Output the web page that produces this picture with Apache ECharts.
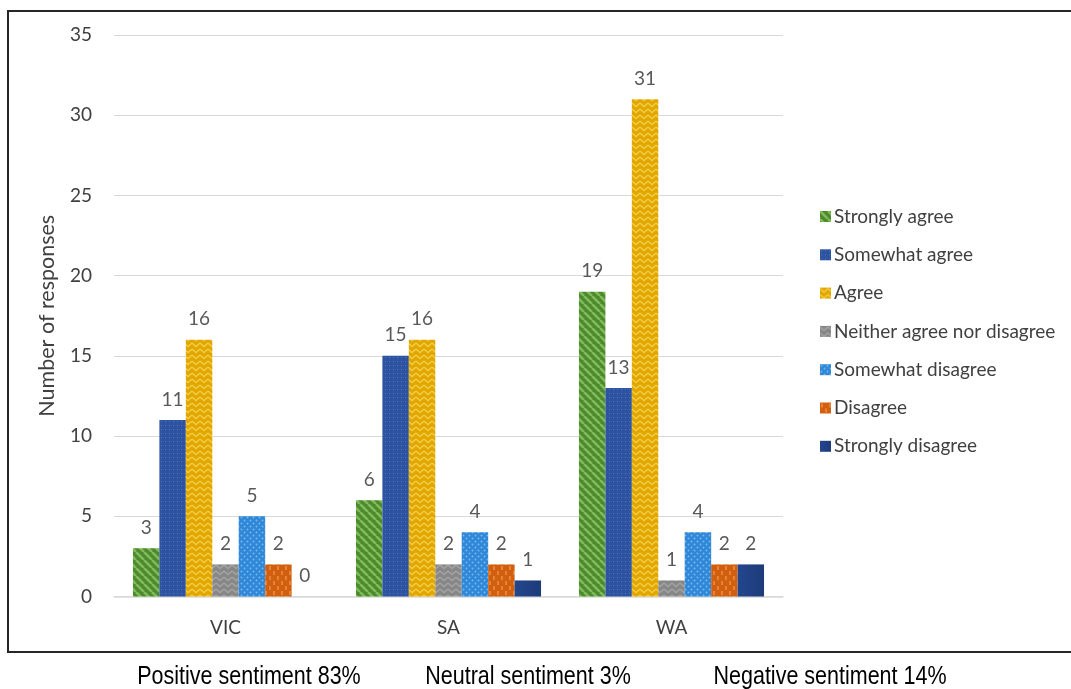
<!DOCTYPE html>
<html>
<head>
<meta charset="utf-8">
<script src="https://cdn.jsdelivr.net/npm/echarts@6/dist/echarts.min.js"></script>
<style>
  html, body { margin: 0; padding: 0; background: #ffffff; }
  #chart { width: 1071px; height: 689px; }
</style>
</head>
<body>
<div id="chart"></div>
<script>
// States along the x axis
const states = ['VIC', 'SA', 'WA'];

// Response counts per answer, one value per state
const stronglyAgree = [3, 6, 19];
const somewhatAgree = [11, 15, 13];
const agree = [16, 16, 31];
const neither = [2, 2, 1];
const somewhatDisagree = [5, 4, 4];
const disagree = [2, 2, 2];
const stronglyDisagree = [0, 1, 2];

const seriesNames = [
  'Strongly agree', 'Somewhat agree', 'Agree',
  'Neither agree nor disagree', 'Somewhat disagree', 'Disagree', 'Strongly disagree'
];
const seriesValues = [
  stronglyAgree, somewhatAgree, agree, neither,
  somewhatDisagree, disagree, stronglyDisagree
];

// Captions printed under the chart box
const sentimentLabels = ['Positive sentiment 83%', 'Neutral sentiment 3%', 'Negative sentiment 14%'];

// ---- pattern fills -------------------------------------------------------
function tile(w, h, base, draw) {
  const c = document.createElement('canvas');
  c.width = w; c.height = h;
  const g = c.getContext('2d');
  g.fillStyle = base;
  g.fillRect(0, 0, w, h);
  draw(g);
  return { image: c, repeat: 'repeat' };
}

const fills = [
  // diagonal stripes
  tile(8, 8, '#4d8a2c', g => {
    g.strokeStyle = '#7fba5c'; g.lineWidth = 2.6;
    for (let x = -8; x <= 8; x += 8) {
      g.beginPath(); g.moveTo(x, 0); g.lineTo(x + 8, 8); g.stroke();
    }
  }),
  // fine dots
  tile(4, 4, '#2d53a1', g => {
    g.fillStyle = '#4d74c2'; g.fillRect(1, 1, 1, 1);
  }),
  // zigzag
  tile(8, 6, '#e0a700', g => {
    g.strokeStyle = '#f6cb45'; g.lineWidth = 1.4;
    g.beginPath(); g.moveTo(0, 1); g.lineTo(4, 4.5); g.lineTo(8, 1); g.stroke();
  }),
  // herringbone
  tile(8, 6, '#878787', g => {
    g.strokeStyle = '#a3a3a3'; g.lineWidth = 1.6;
    g.beginPath(); g.moveTo(0, 1); g.lineTo(4, 4.5); g.lineTo(8, 1); g.stroke();
  }),
  // large dots
  tile(6, 6, '#2e87d7', g => {
    g.fillStyle = '#78b8ee';
    g.beginPath(); g.arc(1.5, 1.5, 1, 0, Math.PI * 2); g.fill();
    g.beginPath(); g.arc(4.5, 4.5, 1, 0, Math.PI * 2); g.fill();
  }),
  // short vertical dashes
  tile(8, 10, '#d15f0e', g => {
    g.strokeStyle = '#f09c5c'; g.lineWidth = 1.2;
    g.beginPath(); g.moveTo(2, 1); g.lineTo(2, 5); g.stroke();
    g.beginPath(); g.moveTo(6, 6); g.lineTo(6, 10); g.stroke();
  }),
  // solid navy with soft shading
  new echarts.graphic.LinearGradient(0, 0, 1, 0, [
    { offset: 0, color: '#23468c' },
    { offset: 1, color: '#1d3b7a' }
  ])
];

const tickFont = 'Lato, "Open Sans", sans-serif';

const chart = echarts.init(document.getElementById('chart'), null, { renderer: 'canvas' });

chart.setOption({
  animation: false,
  backgroundColor: '#ffffff',
  grid: { left: 114, right: 288, top: 35, bottom: 92.5, containLabel: false },
  legend: {
    orient: 'vertical',
    left: 815,
    top: 202,
    itemWidth: 11,
    itemHeight: 11,
    itemGap: 19.3,
    icon: 'rect',
    textStyle: { fontFamily: tickFont, fontSize: 19, color: '#404040', padding: [0, 0, 0, -2] },
    data: seriesNames
  },
  xAxis: {
    type: 'category',
    data: states,
    axisLine: { lineStyle: { color: '#d9d9d9', width: 1.5 } },
    axisTick: { show: false },
    axisLabel: { fontFamily: tickFont, fontSize: 19, color: '#404040', margin: 22 }
  },
  yAxis: {
    type: 'value',
    min: 0,
    max: 35,
    interval: 5,
    name: 'Number of responses',
    nameLocation: 'middle',
    nameGap: 56,
    nameTextStyle: { fontFamily: tickFont, fontSize: 21.5, color: '#404040' },
    axisLine: { show: false },
    axisTick: { show: false },
    splitLine: { lineStyle: { color: '#d9d9d9', width: 1 } },
    axisLabel: { fontFamily: tickFont, fontSize: 19, color: '#404040', margin: 22 }
  },
  series: seriesNames.map((name, i) => ({
    name: name,
    type: 'bar',
    data: seriesValues[i],
    barGap: '0%',
    barCategoryGap: '17%',
    itemStyle: { color: fills[i] },
    label: {
      show: true,
      position: 'top',
      distance: 11,
      fontFamily: tickFont,
      fontSize: 19,
      color: '#595959'
    }
  })),
  graphic: [
    {
      type: 'rect',
      shape: { x: 8, y: 11, width: 1080, height: 641 },
      style: { fill: 'none', stroke: '#262626', lineWidth: 2 },
      silent: true
    },
    // condensed captions: regular sans squeezed horizontally
    ...sentimentLabels.map((t, i) => ({
      type: 'text',
      x: [249, 528, 830][i],
      y: 677,
      scaleX: 0.86,
      style: {
        text: t,
        font: '25px "Liberation Sans", Arial, sans-serif',
        fill: '#000000',
        textAlign: 'center',
        textVerticalAlign: 'middle'
      },
      silent: true
    }))
  ]
});
</script>
</body>
</html>
